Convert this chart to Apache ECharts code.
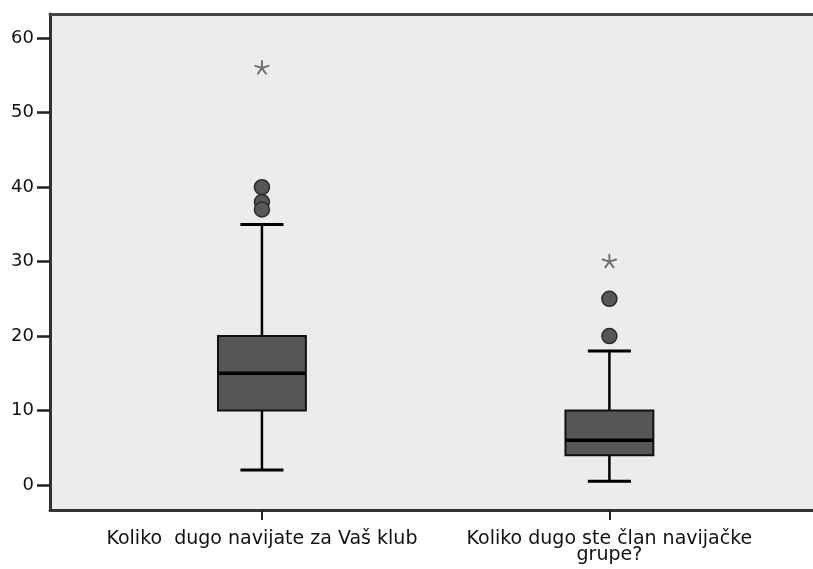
<!DOCTYPE html>
<html><head><meta charset="utf-8">
<script src="https://cdn.jsdelivr.net/npm/echarts@6/dist/echarts.min.js"></script>
<style>html,body{margin:0;padding:0;background:#fff}#c{width:813px;height:569px}</style>
</head><body><div id="c"></div>
<script>
const categories = ['Koliko  dugo navijate za Vaš klub', 'Koliko dugo ste član navijačke\ngrupe?'];
const whiskerLow = [2, 0.5];
const q1 = [10, 4];
const median = [15, 6];
const q3 = [20, 10];
const whiskerHigh = [35, 18];
const outliers = [[0, 40], [0, 38], [0, 37], [1, 20], [1, 25]];
const extremes = [[0, 56], [1, 30]];
const yTicks = [0, 10, 20, 30, 40, 50, 60];
const catPos = [0, 1];

const boxData = categories.map((c, i) => [catPos[i], whiskerLow[i], q1[i], median[i], q3[i], whiskerHigh[i]]);

const chart = echarts.init(document.getElementById('c'), null, {renderer: 'canvas'});
const xMin = -0.61, xMax = 1.586;
const option = {
  animation: false,
  grid: {left: 50, right: 0, top: 14, bottom: 59, show: true, backgroundColor: '#ECECEC', borderWidth: 0},
  xAxis: [{
    type: 'value', min: xMin, max: xMax, splitLine: {show: false},
    axisLine: {show: true, onZero: false, lineStyle: {color: '#333', width: 3}},
    axisTick: {show: true, customValues: catPos, length: 10, lineStyle: {color: '#222', width: 2}},
    axisLabel: {customValues: catPos, formatter: v => categories[Math.round(v)], fontFamily: 'DejaVu Sans', fontSize: 19, color: '#111', lineHeight: 16, margin: 21}
  }, {
    type: 'value', position: 'top', min: xMin, max: xMax, splitLine: {show: false},
    axisLine: {show: true, onZero: false, lineStyle: {color: '#444', width: 3}},
    axisTick: {show: false}, axisLabel: {show: false}
  }],
  yAxis: {
    type: 'value', min: -3.36, max: 63.26, splitLine: {show: false},
    axisLine: {show: true, onZero: false, lineStyle: {color: '#333', width: 3}},
    axisTick: {show: true, customValues: yTicks, length: 13, lineStyle: {color: '#222', width: 2.5}},
    axisLabel: {customValues: yTicks, fontFamily: 'DejaVu Sans', fontSize: 18, color: '#111', margin: 16}
  },
  series: [{
    type: 'custom',
    data: boxData,
    encode: {x: 0, y: [1, 2, 3, 4, 5]},
    renderItem: function (params, api) {
      const x = api.value(0);
      const pLow = api.coord([x, api.value(1)]);
      const pQ1 = api.coord([x, api.value(2)]);
      const pMed = api.coord([x, api.value(3)]);
      const pQ3 = api.coord([x, api.value(4)]);
      const pHigh = api.coord([x, api.value(5)]);
      const bw = api.size([0.253, 0])[0];
      const cw = api.size([0.124, 0])[0];
      const cx = pQ1[0];
      const ls = {stroke: '#000', lineWidth: 2.5};
      return {type: 'group', children: [
        {type: 'line', shape: {x1: cx, y1: pLow[1], x2: cx, y2: pQ1[1]}, style: ls},
        {type: 'line', shape: {x1: cx, y1: pQ3[1], x2: cx, y2: pHigh[1]}, style: ls},
        {type: 'line', shape: {x1: cx - cw / 2, y1: pLow[1], x2: cx + cw / 2, y2: pLow[1]}, style: {stroke: '#000', lineWidth: 3}},
        {type: 'line', shape: {x1: cx - cw / 2, y1: pHigh[1], x2: cx + cw / 2, y2: pHigh[1]}, style: {stroke: '#000', lineWidth: 3}},
        {type: 'rect', shape: {x: cx - bw / 2, y: pQ3[1], width: bw, height: pQ1[1] - pQ3[1]}, style: {fill: '#565656', stroke: '#111', lineWidth: 2}},
        {type: 'line', shape: {x1: cx - bw / 2, y1: pMed[1], x2: cx + bw / 2, y2: pMed[1]}, style: {stroke: '#000', lineWidth: 3.5}}
      ]};
    }
  }, {
    type: 'scatter',
    data: outliers,
    symbol: 'circle',
    symbolSize: 15,
    itemStyle: {color: '#575757', borderColor: '#2a2a2a', borderWidth: 1.5, opacity: 1}
  }, {
    type: 'custom',
    data: extremes,
    encode: {x: 0, y: 1},
    renderItem: function (params, api) {
      const p = api.coord([api.value(0), api.value(1)]);
      const r = 7;
      const children = [];
      for (let k = 0; k < 5; k++) {
        const a = -Math.PI / 2 + k * 2 * Math.PI / 5;
        children.push({type: 'line', shape: {x1: p[0], y1: p[1], x2: p[0] + r * Math.cos(a), y2: p[1] + r * Math.sin(a)},
          style: {stroke: '#707070', lineWidth: 2, lineCap: 'round'}});
      }
      return {type: 'group', children: children};
    }
  }]
};
chart.setOption(option);
</script>
</body></html>
